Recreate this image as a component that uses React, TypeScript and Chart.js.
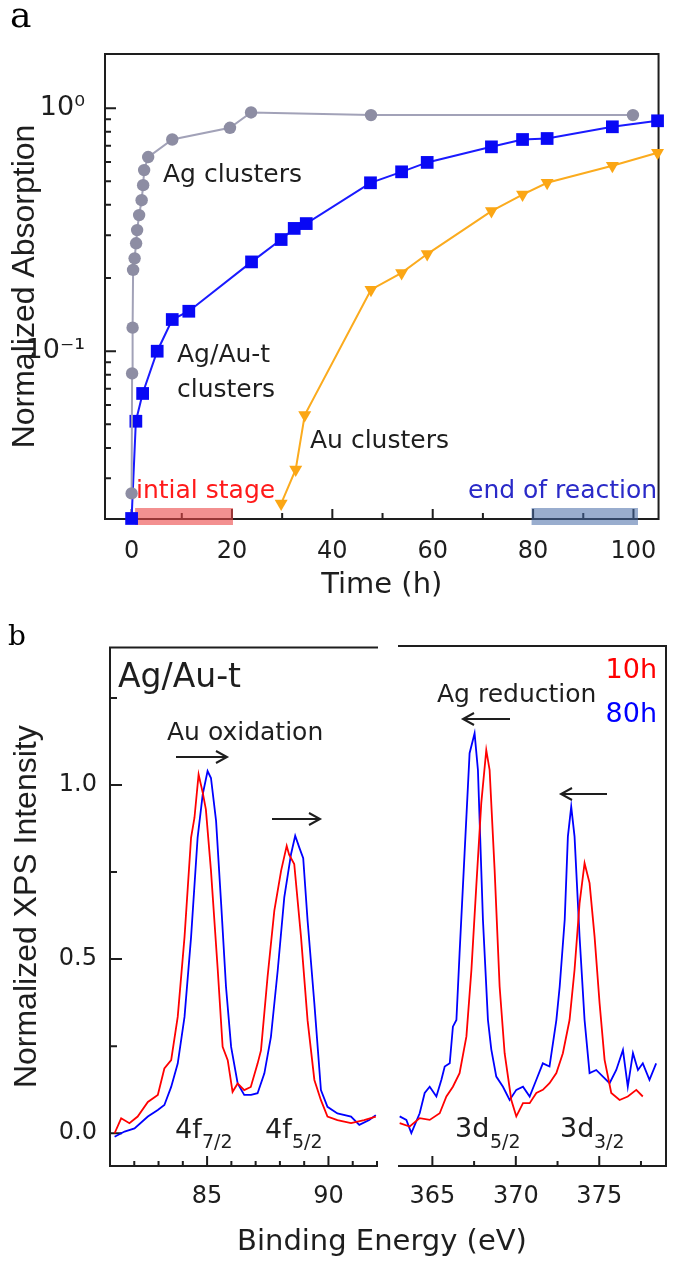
import React, { useEffect, useRef } from 'react';
import { Chart, registerables } from 'chart.js';

Chart.register(...registerables);

const SANS = '"DejaVu Sans", sans-serif';
const ARIAL = '"Liberation Sans", Arial, sans-serif';
const SERIF = '"DejaVu Serif", serif';
const INK = '#1e1e1e';

// ---------- Panel a : normalized absorption vs time ----------
const agTime = [0, 0.1, 0.2, 0.3, 0.6, 0.9, 1.1, 1.5, 2.0, 2.3, 2.5, 3.3, 8.1, 19.6, 23.8, 47.7, 99.9];
const agAbs = [0.026, 0.081, 0.125, 0.216, 0.241, 0.278, 0.315, 0.363, 0.418, 0.482, 0.556, 0.629, 0.743, 0.83, 0.96, 0.936, 0.936];

const agauTime = [0, 0.85, 2.2, 5.1, 8.1, 11.4, 23.9, 29.8, 32.4, 34.8, 47.6, 53.8, 58.9, 71.7, 77.9, 82.8, 95.8, 104.8];
const agauAbs = [0.0205, 0.0515, 0.067, 0.1, 0.135, 0.146, 0.233, 0.288, 0.32, 0.335, 0.493, 0.547, 0.598, 0.693, 0.743, 0.75, 0.838, 0.887];

const auTime = [29.8, 32.7, 34.5, 47.7, 53.8, 58.9, 71.7, 77.9, 82.8, 95.8, 104.8];
const auAbs = [0.0236, 0.0326, 0.0546, 0.179, 0.21, 0.251, 0.377, 0.441, 0.493, 0.579, 0.655];

const timeTickValues = [0, 10, 20, 30, 40, 50, 60, 70, 80, 90, 100];
const timeTickLabels = ['0', '', '20', '', '40', '', '60', '', '80', '', '100'];
const absTickValues = [0.03, 0.04, 0.05, 0.06, 0.07, 0.08, 0.09, 0.1, 0.2, 0.3, 0.4, 0.5, 0.6, 0.7, 0.8, 0.9, 1];
const absTickLabels = ['', '', '', '', '', '', '', '10\u207B\u00B9', '', '', '', '', '', '', '', '', '10\u2070'];

// ---------- Panel b : XPS spectra ----------
const au10hEnergy = [81.19, 81.46, 81.8, 82.14, 82.56, 82.97, 83.24, 83.52, 83.79, 84.07, 84.34, 84.48, 84.65, 84.82, 84.95, 85.16, 85.44, 85.64, 85.85, 86.05, 86.26, 86.53, 86.8, 87.08, 87.22, 87.49, 87.77, 88.05, 88.28, 88.38, 88.59, 88.87, 89.14, 89.42, 89.69, 89.96, 90.37, 90.93, 91.47, 91.95];
const au10hIntensity = [0.0, 0.043, 0.029, 0.048, 0.09, 0.11, 0.186, 0.21, 0.334, 0.563, 0.849, 0.906, 1.03, 0.978, 0.93, 0.754, 0.468, 0.248, 0.21, 0.119, 0.143, 0.124, 0.133, 0.2, 0.238, 0.448, 0.639, 0.754, 0.825, 0.8, 0.773, 0.563, 0.324, 0.153, 0.095, 0.048, 0.038, 0.029, 0.038, 0.048];

const au80hEnergy = [81.19, 81.6, 82.01, 82.56, 82.97, 83.24, 83.52, 83.79, 84.07, 84.34, 84.61, 84.82, 85.02, 85.16, 85.37, 85.58, 85.78, 85.99, 86.26, 86.53, 86.81, 87.08, 87.36, 87.63, 87.91, 88.18, 88.46, 88.63, 88.8, 88.96, 89.14, 89.42, 89.69, 89.96, 90.37, 90.93, 91.27, 91.68, 91.95];
const au80hIntensity = [-0.01, 0.005, 0.014, 0.048, 0.067, 0.081, 0.133, 0.2, 0.334, 0.563, 0.849, 0.973, 1.04, 1.02, 0.897, 0.658, 0.42, 0.248, 0.143, 0.11, 0.11, 0.115, 0.172, 0.277, 0.468, 0.677, 0.802, 0.854, 0.82, 0.79, 0.611, 0.372, 0.124, 0.076, 0.057, 0.048, 0.024, 0.038, 0.052];

const ag10hEnergy = [363.04, 363.64, 364.24, 364.84, 365.44, 365.84, 366.23, 366.63, 367.04, 367.34, 367.63, 367.93, 368.23, 368.43, 368.73, 369.03, 369.33, 369.73, 370.03, 370.43, 370.83, 371.23, 371.62, 372.02, 372.43, 372.82, 373.22, 373.52, 373.82, 374.12, 374.42, 374.72, 375.02, 375.32, 375.72, 376.22, 376.71, 377.22, 377.61];
const ag10hIntensity = [0.029, 0.019, 0.043, 0.038, 0.057, 0.105, 0.133, 0.172, 0.277, 0.468, 0.706, 0.945, 1.097, 1.04, 0.754, 0.42, 0.229, 0.095, 0.048, 0.086, 0.086, 0.115, 0.124, 0.143, 0.172, 0.229, 0.324, 0.468, 0.658, 0.773, 0.716, 0.563, 0.372, 0.21, 0.115, 0.095, 0.105, 0.124, 0.105];

const ag80hEnergy = [363.04, 363.44, 363.74, 364.24, 364.54, 364.84, 365.24, 365.54, 365.74, 366.04, 366.23, 366.44, 366.63, 366.93, 367.23, 367.53, 367.73, 368.03, 368.33, 368.53, 368.83, 369.23, 369.63, 370.03, 370.43, 370.83, 371.23, 371.62, 372.02, 372.43, 372.63, 372.93, 373.12, 373.32, 373.52, 373.82, 374.12, 374.42, 374.82, 375.22, 375.62, 376.02, 376.42, 376.71, 377.02, 377.32, 377.61, 378.01, 378.41];
const ag80hIntensity = [0.048, 0.038, 0.0, 0.057, 0.115, 0.133, 0.105, 0.153, 0.191, 0.2, 0.305, 0.324, 0.515, 0.802, 1.088, 1.145, 1.04, 0.611, 0.324, 0.24, 0.162, 0.133, 0.095, 0.124, 0.133, 0.105, 0.153, 0.2, 0.191, 0.324, 0.42, 0.611, 0.849, 0.935, 0.849, 0.563, 0.324, 0.172, 0.181, 0.162, 0.143, 0.181, 0.238, 0.133, 0.229, 0.181, 0.2, 0.153, 0.2];

const auEnergyTicks = [82, 83, 84, 85, 86, 87, 88, 89, 90, 91, 92];
const auEnergyLabels = ['', '', '', '85', '', '', '', '', '90', '', ''];
const agEnergyTicks = [365, 367.5, 370, 372.5, 375, 377.5];
const agEnergyLabels = ['365', '', '370', '', '375', ''];
const xpsTicks = [0, 0.25, 0.5, 0.75, 1, 1.25];
const xpsLabels = ['0.0', '', '0.5', '', '1.0', ''];

// ---------- helpers ----------
const pts = (xs: number[], ys: number[]) => xs.map((x, i) => ({ x, y: ys[i] }));
const fixedTicks = (values: number[]) => (scale: any) => {
  scale.ticks = values.map((v) => ({ value: v }));
};
const labelFor = (values: number[], labels: string[]) => (v: any) => {
  const i = values.findIndex((x) => Math.abs(x - Number(v)) < 1e-9);
  return i >= 0 ? labels[i] : '';
};

function drawTicks(ctx: CanvasRenderingContext2D, chart: any, id: string, values: number[], labels: string[], side: string, majLen: number, minLen: number) {
  const s = chart.scales[id];
  const a = chart.chartArea;
  ctx.save();
  ctx.strokeStyle = INK;
  ctx.lineWidth = 2;
  ctx.beginPath();
  values.forEach((v, i) => {
    const p = s.getPixelForValue(v);
    const len = labels[i] ? majLen : minLen;
    if (side === 'bottom') {
      ctx.moveTo(p, a.bottom);
      ctx.lineTo(p, a.bottom - len);
    } else {
      ctx.moveTo(a.left, p);
      ctx.lineTo(a.left + len, p);
    }
  });
  ctx.stroke();
  ctx.restore();
}

function txt(ctx: CanvasRenderingContext2D, s: string, x: number, y: number, font: string, color: string, align: CanvasTextAlign = 'left') {
  ctx.save();
  ctx.font = font;
  ctx.fillStyle = color;
  ctx.textAlign = align;
  ctx.textBaseline = 'alphabetic';
  ctx.fillText(s, x, y);
  ctx.restore();
}

function arrow(ctx: CanvasRenderingContext2D, x1: number, x2: number, y: number) {
  const dir = x2 > x1 ? 1 : -1;
  ctx.save();
  ctx.strokeStyle = INK;
  ctx.lineWidth = 2;
  ctx.beginPath();
  ctx.moveTo(x1, y);
  ctx.lineTo(x2, y);
  ctx.moveTo(x2 - dir * 11, y - 6);
  ctx.lineTo(x2, y);
  ctx.lineTo(x2 - dir * 11, y + 6);
  ctx.stroke();
  ctx.restore();
}

function lines(ctx: CanvasRenderingContext2D, segs: number[][]) {
  ctx.save();
  ctx.strokeStyle = INK;
  ctx.lineWidth = 2;
  ctx.lineCap = 'square';
  ctx.beginPath();
  segs.forEach(([x1, y1, x2, y2]) => {
    ctx.moveTo(x1, y1);
    ctx.lineTo(x2, y2);
  });
  ctx.stroke();
  ctx.restore();
}

const tickFont = { family: SANS, size: 24 };

// ---------- configs ----------
function makeConfigA(): any {
  const panelA = {
    id: 'panelA',
    beforeDatasetsDraw(chart: any) {
      const ctx = chart.ctx;
      const a = chart.chartArea;
      lines(ctx, [
        [a.left, a.top, a.right, a.top],
        [a.right, a.top, a.right, a.bottom],
        [a.left, a.bottom, a.right, a.bottom],
        [a.left, a.top, a.left, a.bottom],
      ]);
      drawTicks(ctx, chart, 'x', timeTickValues, timeTickLabels, 'bottom', 10, 6);
      drawTicks(ctx, chart, 'y', absTickValues, absTickLabels, 'left', 11, 6);
      const x = chart.scales.x;
      ctx.save();
      ctx.fillStyle = 'rgba(235, 70, 70, 0.6)';
      const r1 = x.getPixelForValue(0.7), r2 = x.getPixelForValue(20.2);
      ctx.fillRect(r1, a.bottom - 11, r2 - r1, 17);
      ctx.fillStyle = 'rgba(70, 105, 165, 0.55)';
      const b1 = x.getPixelForValue(79.7), b2 = x.getPixelForValue(100.9);
      ctx.fillRect(b1, a.bottom - 11, b2 - b1, 17);
      ctx.restore();
    },
    afterDraw(chart: any) {
      const ctx = chart.ctx;
      const f = `25px ${SANS}`;
      txt(ctx, 'a', 10, 27, `36px ${SERIF}`, '#000');
      txt(ctx, 'Ag clusters', 163, 182, f, INK);
      txt(ctx, 'Ag/Au-t', 177, 362, f, INK);
      txt(ctx, 'clusters', 177, 397, f, INK);
      txt(ctx, 'Au clusters', 310, 448, f, INK);
      txt(ctx, 'intial stage', 136, 498, f, '#ff1a1a');
      txt(ctx, 'end of reaction', 468, 498, f, '#2a2ac8');
    },
  };
  return {
    type: 'line',
    data: {
      datasets: [
        {
          label: 'Ag clusters',
          data: pts(agTime, agAbs),
          borderColor: '#a2a2b8',
          borderWidth: 2,
          pointStyle: 'circle',
          pointRadius: 6.2,
          pointBackgroundColor: '#8d8da3',
          pointBorderWidth: 0,
          clip: false,
        },
        {
          label: 'Ag/Au-t clusters',
          data: pts(agauTime, agauAbs),
          borderColor: '#1a1aff',
          borderWidth: 2,
          pointStyle: 'rect',
          pointRadius: 9,
          pointBackgroundColor: '#0808f5',
          pointBorderWidth: 0,
          clip: false,
        },
        {
          label: 'Au clusters',
          data: pts(auTime, auAbs),
          borderColor: '#fbab1e',
          borderWidth: 2,
          pointStyle: 'triangle',
          pointRotation: 180,
          pointRadius: 7.5,
          pointBackgroundColor: '#fba614',
          pointBorderWidth: 0,
          clip: false,
        },
      ],
    },
    options: {
      responsive: false,
      animation: false,
      layout: { padding: { left: 0, top: 54, right: 14, bottom: 0 } },
      plugins: { legend: { display: false }, tooltip: { enabled: false } },
      elements: { line: { tension: 0 } },
      scales: {
        x: {
          type: 'linear',
          min: -5.3,
          max: 105,
          grid: { display: false, drawTicks: false },
          border: { display: false },
          afterBuildTicks: fixedTicks(timeTickValues),
          afterFit: (s: any) => { s.height = 101; },
          ticks: { callback: labelFor(timeTickValues, timeTickLabels), autoSkip: false, maxRotation: 0, minRotation: 0, font: tickFont, color: INK, padding: 18 },
          title: { display: true, text: 'Time (h)', font: { family: SANS, size: 29 }, color: INK, padding: { top: 0, bottom: 17 } },
        },
        y: {
          type: 'logarithmic',
          min: 0.0204,
          max: 1.67,
          grid: { display: false, drawTicks: false },
          border: { display: false },
          afterBuildTicks: fixedTicks(absTickValues),
          afterFit: (s: any) => { s.width = 105; },
          ticks: { callback: labelFor(absTickValues, absTickLabels), autoSkip: false, font: { family: SANS, size: 27 }, color: INK, padding: 20 },
          title: { display: true, text: 'Normalized Absorption', font: { family: ARIAL, size: 32 }, color: INK, padding: { top: 6, bottom: 0 } },
        },
      },
    },
    plugins: [panelA],
  };
}

function makeConfigBL(): any {
  const frameBL = {
    id: 'frameBL',
    beforeDatasetsDraw(chart: any) {
      const ctx = chart.ctx;
      const a = chart.chartArea;
      lines(ctx, [
        [a.left, a.top, a.right, a.top],
        [a.left, a.top, a.left, a.bottom],
        [a.left, a.bottom, a.right, a.bottom],
      ]);
      drawTicks(ctx, chart, 'x', auEnergyTicks, auEnergyLabels, 'bottom', 10, 5);
      drawTicks(ctx, chart, 'y', xpsTicks, xpsLabels, 'left', 12, 7);
    },
  };
  return {
    type: 'line',
    data: {
      datasets: [
        { label: '10h', data: pts(au10hEnergy, au10hIntensity), borderColor: '#ff0000', borderWidth: 1.8, pointRadius: 0 },
        { label: '80h', data: pts(au80hEnergy, au80hIntensity), borderColor: '#0000ff', borderWidth: 1.8, pointRadius: 0 },
      ],
    },
    options: {
      responsive: false,
      animation: false,
      layout: { padding: { left: 0, top: 26, right: 298, bottom: 0 } },
      plugins: { legend: { display: false }, tooltip: { enabled: false } },
      elements: { line: { tension: 0 } },
      scales: {
        x: {
          type: 'linear',
          min: 81,
          max: 92,
          grid: { display: false, drawTicks: false },
          border: { display: false },
          afterBuildTicks: fixedTicks(auEnergyTicks),
          afterFit: (s: any) => { s.height = 99; },
          ticks: { callback: labelFor(auEnergyTicks, auEnergyLabels), autoSkip: false, maxRotation: 0, minRotation: 0, font: tickFont, color: INK, padding: 16 },
        },
        y: {
          type: 'linear',
          min: -0.094,
          max: 1.395,
          grid: { display: false, drawTicks: false },
          border: { display: false },
          afterBuildTicks: fixedTicks(xpsTicks),
          afterFit: (s: any) => { s.width = 110; },
          ticks: { callback: labelFor(xpsTicks, xpsLabels), autoSkip: false, font: tickFont, color: INK, padding: 13 },
          title: { display: true, text: 'Normalized XPS Intensity', font: { family: ARIAL, size: 32 }, color: INK, padding: { top: 8, bottom: 0 } },
        },
      },
    },
    plugins: [frameBL],
  };
}

function makeConfigBR(): any {
  const frameBR = {
    id: 'frameBR',
    beforeDatasetsDraw(chart: any) {
      const ctx = chart.ctx;
      const a = chart.chartArea;
      lines(ctx, [
        [a.left, a.top, a.right, a.top],
        [a.right, a.top, a.right, a.bottom],
        [a.left, a.bottom, a.right, a.bottom],
      ]);
      drawTicks(ctx, chart, 'x', agEnergyTicks, agEnergyLabels, 'bottom', 10, 5);
    },
    afterDraw(chart: any) {
      const ctx = chart.ctx;
      const o = -620;
      const f = `25px ${SANS}`;
      txt(ctx, 'b', 8, 645 + o, `28px ${SERIF}`, '#000');
      txt(ctx, 'Ag/Au-t', 118, 687 + o, `33px ${SANS}`, INK);
      txt(ctx, 'Au oxidation', 167, 740 + o, f, INK);
      arrow(ctx, 176, 227, 757 + o);
      arrow(ctx, 272, 320, 819 + o);
      txt(ctx, 'Ag reduction', 437, 702 + o, f, INK);
      arrow(ctx, 510, 463, 719 + o);
      arrow(ctx, 607, 561, 794 + o);
      txt(ctx, '10h', 657, 678 + o, `27px ${SANS}`, '#ff0000', 'right');
      txt(ctx, '80h', 657, 722 + o, `27px ${SANS}`, '#0000ff', 'right');
      const big = `27px ${SANS}`;
      const sub = `19px ${SANS}`;
      txt(ctx, '4f', 175, 1138 + o, big, INK);
      txt(ctx, '7/2', 202, 1148 + o, sub, INK);
      txt(ctx, '4f', 265, 1138 + o, big, INK);
      txt(ctx, '5/2', 292, 1148 + o, sub, INK);
      txt(ctx, '3d', 455, 1137 + o, big, INK);
      txt(ctx, '5/2', 490, 1148 + o, sub, INK);
      txt(ctx, '3d', 560, 1137 + o, big, INK);
      txt(ctx, '3/2', 594, 1148 + o, sub, INK);
      txt(ctx, 'Binding Energy (eV)', 382, 1250 + o, `29px ${SANS}`, INK, 'center');
    },
  };
  return {
    type: 'line',
    data: {
      datasets: [
        { label: '10h', data: pts(ag10hEnergy, ag10hIntensity), borderColor: '#ff0000', borderWidth: 1.8, pointRadius: 0 },
        { label: '80h', data: pts(ag80hEnergy, ag80hIntensity), borderColor: '#0000ff', borderWidth: 1.8, pointRadius: 0 },
      ],
    },
    options: {
      responsive: false,
      animation: false,
      layout: { padding: { left: 399, top: 26, right: 9, bottom: 0 } },
      plugins: { legend: { display: false }, tooltip: { enabled: false } },
      elements: { line: { tension: 0 } },
      scales: {
        x: {
          type: 'linear',
          min: 363,
          max: 379,
          grid: { display: false, drawTicks: false },
          border: { display: false },
          afterBuildTicks: fixedTicks(agEnergyTicks),
          afterFit: (s: any) => { s.height = 99; },
          ticks: { callback: labelFor(agEnergyTicks, agEnergyLabels), autoSkip: false, maxRotation: 0, minRotation: 0, font: tickFont, color: INK, padding: 16 },
        },
        y: {
          type: 'linear',
          min: -0.094,
          max: 1.395,
          display: false,
        },
      },
    },
    plugins: [frameBR],
  };
}

function ChartCanvas({ make, left, top, width, height }: { make: () => any; left: number; top: number; width: number; height: number }) {
  const ref = useRef<HTMLCanvasElement>(null);
  useEffect(() => {
    const chart = new Chart(ref.current as HTMLCanvasElement, make());
    return () => chart.destroy();
  }, []);
  return (
    <canvas
      ref={ref}
      width={width}
      height={height}
      style={{ position: 'absolute', left, top, width, height }}
    />
  );
}

export default function App() {
  return (
    <div style={{ position: 'absolute', left: 0, top: 0, width: 675, height: 1265, background: '#fff', overflow: 'hidden' }}>
      <ChartCanvas make={makeConfigA} left={0} top={0} width={675} height={620} />
      <ChartCanvas make={makeConfigBL} left={0} top={620} width={675} height={645} />
      <ChartCanvas make={makeConfigBR} left={0} top={620} width={675} height={645} />
    </div>
  );
}
